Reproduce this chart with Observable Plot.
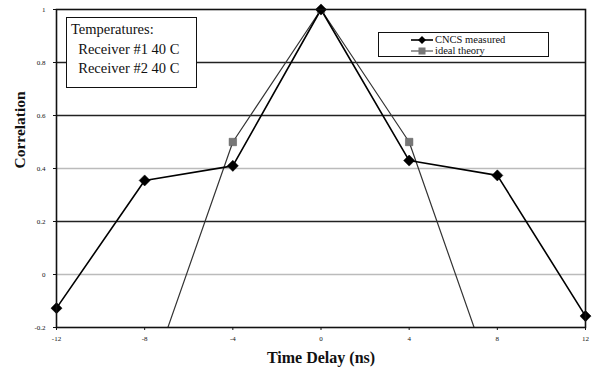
<!DOCTYPE html>
<html>
<head>
<meta charset="utf-8">
<script src="https://cdn.jsdelivr.net/npm/d3@7"></script>
<script src="https://cdn.jsdelivr.net/npm/@observablehq/plot@0.6"></script>
<style>
  body { margin: 0; background: #fff; }
  #wrap { position: relative; width: 596px; height: 377px; font-family: "Liberation Serif", "DejaVu Serif", serif; }
  .box { position: absolute; background: #fff; border: 1.5px solid #111; box-sizing: border-box; }
  #temps { left: 66px; top: 17px; width: 131px; height: 71px; font-size: 14.5px; line-height: 19.5px; padding: 2px 0 0 4px; color: #111; }
  #legend { left: 378px; top: 32px; width: 171px; height: 25px; font-size: 10.5px; line-height: 11px; overflow: hidden; padding-top: 1px; color: #111; }
  .li { display: flex; align-items: center; padding-left: 32px; height: 11px; }
  .li svg { margin-right: 2px; }
</style>
</head>
<body>
<div id="wrap"></div>
<script>
const delays = [-12, -8, -4, 0, 4, 8, 12];
const measured = [-0.127, 0.355, 0.41, 1.0, 0.43, 0.374, -0.157];
const theoryDelays = [-8, -4, 0, 4, 8];
const theory = [-0.45, 0.5, 1.0, 0.5, -0.45];
const xTicks = [-12, -8, -4, 0, 4, 8, 12];
const yTicks = [-0.2, 0, 0.2, 0.4, 0.6, 0.8, 1];
const darkGrid = [0.2, 0.6, 0.8];
const lightGrid = [0, 0.4];
const seriesNames = ["CNCS measured", "ideal theory"];
const tempLines = ["Temperatures:", "\u00a0\u00a0Receiver #1 40 C", "\u00a0\u00a0Receiver #2 40 C"];

const measData = delays.map((d, i) => ({x: d, y: measured[i]}));
const theoData = theoryDelays.map((d, i) => ({x: d, y: theory[i]}));

const chart = Plot.plot({
  width: 596,
  height: 377,
  marginLeft: 56,
  marginRight: 11,
  marginTop: 9,
  marginBottom: 50,
  style: {fontFamily: "'Liberation Serif', serif", background: "#fff", color: "#111"},
  x: {domain: [-12, 12]},
  y: {domain: [-0.2, 1]},
  marks: [
    Plot.ruleY(lightGrid, {stroke: "#bbb", strokeWidth: 1.5}),
    Plot.ruleY(darkGrid, {stroke: "#222", strokeWidth: 1.3}),
    Plot.axisY({ticks: yTicks, tickSize: 3, fontSize: 7, tickPadding: 8, label: null, tickFormat: d => String(d)}),
    Plot.axisX({ticks: xTicks, tickSize: 3, fontSize: 7, tickPadding: 6, label: null, tickFormat: d => String(d)}),
    Plot.line(theoData, {x: "x", y: "y", stroke: "#333", strokeWidth: 1.2, clip: true}),
    Plot.line(measData, {x: "x", y: "y", stroke: "#000", strokeWidth: 1.6}),
    Plot.dot(theoData, {x: "x", y: "y", symbol: "square", r: 4.2, fill: "#777", stroke: "#555", strokeWidth: 0.5, clip: true}),
    Plot.dot(measData, {x: "x", y: "y", symbol: "diamond2", r: 5, fill: "#000", stroke: "#000", strokeWidth: 0.5}),
    Plot.frame({stroke: "#111", strokeWidth: 1.6}),
    Plot.text(["Correlation"], {text: d => d, frameAnchor: "left", rotate: -90, dx: -36, fontSize: 15.5, fontWeight: "bold"}),
    Plot.text(["Time Delay (ns)"], {text: d => d, frameAnchor: "bottom", dy: 35, fontSize: 16, fontWeight: "bold"})
  ]
});

const wrap = document.getElementById("wrap");
wrap.appendChild(chart);

const temps = document.createElement("div");
temps.className = "box";
temps.id = "temps";
temps.innerHTML = tempLines.map(t => `<div>${t}</div>`).join("");
wrap.appendChild(temps);

const legend = document.createElement("div");
legend.className = "box";
legend.id = "legend";
const diamondSvg = `<svg width="22" height="10"><line x1="0" y1="5" x2="22" y2="5" stroke="#000" stroke-width="1.6"/><path d="M11,1 L15,5 L11,9 L7,5Z" fill="#000"/></svg>`;
const squareSvg = `<svg width="22" height="10"><line x1="0" y1="5" x2="22" y2="5" stroke="#555" stroke-width="1.2"/><rect x="7.5" y="1.5" width="7" height="7" fill="#777"/></svg>`;
legend.innerHTML = `<div class="li">${diamondSvg}<span>${seriesNames[0]}</span></div><div class="li">${squareSvg}<span>${seriesNames[1]}</span></div>`;
wrap.appendChild(legend);
</script>
</body>
</html>
